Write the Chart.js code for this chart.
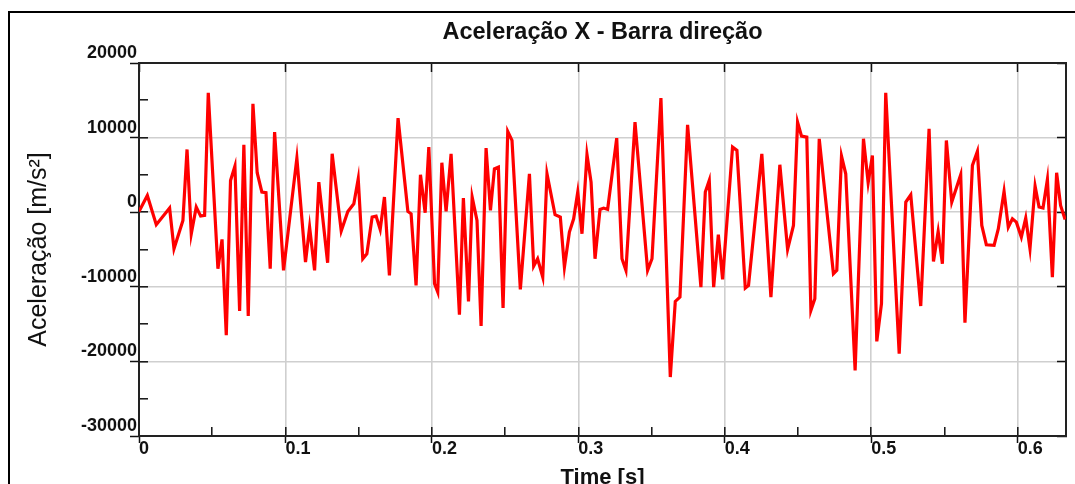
<!DOCTYPE html>
<html>
<head>
<meta charset="utf-8">
<title>Aceleração X - Barra direção</title>
<style>
  html, body { margin: 0; padding: 0; background: #ffffff; }
  #wrap { width: 1075px; height: 484px; position: relative; overflow: hidden; }
  canvas { display: block; }
</style>
<script src="https://cdn.jsdelivr.net/npm/chart.js@4.4.1/dist/chart.umd.min.js"></script>
</head>
<body>
<div id="wrap"><canvas id="chart" width="1075" height="484"></canvas></div>
<script>
// Sample times [s]
const timeS = [
  0, 0.0057, 0.0118, 0.0209, 0.0239, 0.0300, 0.0328, 0.0357, 0.0391, 0.0421,
  0.0448, 0.0473, 0.0539, 0.0567, 0.0596, 0.0625, 0.0655, 0.0687, 0.0716, 0.0746,
  0.0778, 0.0807, 0.0839, 0.0867, 0.0896, 0.0926, 0.0987, 0.1078, 0.1137, 0.1165,
  0.1199, 0.1228, 0.1288, 0.1319, 0.1381, 0.1426, 0.1467, 0.1497, 0.1528, 0.1556,
  0.1592, 0.1619, 0.1647, 0.1676, 0.1710, 0.1769, 0.1836, 0.1858, 0.1892, 0.1922,
  0.1954, 0.1979, 0.2018, 0.2040, 0.2068, 0.2097, 0.2131, 0.2188, 0.2215, 0.2250,
  0.2275, 0.2308, 0.2336, 0.2370, 0.2400, 0.2427, 0.2454, 0.2486, 0.2518, 0.2547,
  0.2604, 0.2666, 0.2695, 0.2722, 0.2757, 0.2786, 0.2841, 0.2877, 0.2905, 0.2939,
  0.2968, 0.2996, 0.3025, 0.3059, 0.3087, 0.3114, 0.3148, 0.3173, 0.3200, 0.3262,
  0.3298, 0.3325, 0.3387, 0.3473, 0.3503, 0.3564, 0.3628, 0.3662, 0.3694, 0.3746,
  0.3837, 0.3867, 0.3894, 0.3924, 0.3956, 0.3985, 0.4053, 0.4083, 0.4140, 0.4162,
  0.4253, 0.4315, 0.4376, 0.4429, 0.4469, 0.4497, 0.4524, 0.4560, 0.4588, 0.4615,
  0.4645, 0.4742, 0.4765, 0.4797, 0.4826, 0.4890, 0.4947, 0.4979, 0.5008, 0.5038,
  0.5070, 0.5099, 0.5191, 0.5236, 0.5270, 0.5338, 0.5395, 0.5425, 0.5457, 0.5486,
  0.5513, 0.5550, 0.5611, 0.5640, 0.5691, 0.5725, 0.5755, 0.5786, 0.5839, 0.5868,
  0.5907, 0.5936, 0.5964, 0.5991, 0.6025, 0.6055, 0.6084, 0.6119, 0.6146, 0.6173,
  0.6203, 0.6237, 0.6266, 0.6293, 0.6324
];

// Acceleration along X [m/s²]
const accelX = [
  100, 2250, -1680, 550, -4900, -1100, 8410, -2890, 690, -520,
  -430, 16000, -7580, -3650, -16500, 4260, 6180, -13250, 9040, -13920,
  14530, 5290, 2700, 2610, -7580, 10740, -7800, 7250, -6690, -2000,
  -7800, 4040, -6770, 7830, -2530, 100, 1130, 4480, -6240, -5570,
  -650, -520, -2310, 2030, -8470, 12610, 100, -210, -9810, 5020,
  -70, 8730, -9590, -10710, 6630, 100, 7830, -13740, 1890, -11960,
  2030, -1100, -15260, 8590, 240, 5820, 6050, -12850, 10830, 9620,
  -10350, 5150, -7220, -6240, -8700, 5150, -340, -650, -7360, -2670,
  -880, 2700, -2890, 7740, 4040, -6240, 370, 550, 370, 9930,
  -6240, -7800, 12080, -7800, -6240, 15290, -22100, -11960, -11380, 11720,
  -10040, 2700, 4260, -10040, -3020, -9010, 8730, 8280, -10170, -9810,
  7830, -11380, 6360, -4990, -1770, 12080, 10200, 10070, -13160, -11600,
  9840, -8250, -7800, 7520, 5150, -21200, 9840, 3950, 7610, -17320,
  -12270, 16010, -18970, 1360, 2340, -12580, 11180, -6600, -2580, -6910,
  9620, 1360, 5020, -14820, 6270, 8150, -1770, -4360, -4450, -2220,
  2790, -2000, -880, -1330, -3340, -790, -4900, 3500, 690, 550,
  4390, -8700, 5290, 910, -970
];

// Axis ticks: labelled (major) and unlabelled (minor) positions
const xMajorTicks = [0, 0.1, 0.2, 0.3, 0.4, 0.5, 0.6];
const xTickLabels = ['0', '0.1', '0.2', '0.3', '0.4', '0.5', '0.6'];
const xMinorTicks = [0.05, 0.15, 0.25, 0.35, 0.45, 0.55];
const yMajorTicks = [-30000, -20000, -10000, 0, 10000, 20000];
const yTickLabels = ['-30000', '-20000', '-10000', '0', '10000', '20000'];
const yMinorTicks = [-25000, -15000, -5000, 5000, 15000];
const xMin = 0, xMax = 0.633;
const yMin = -30000, yMax = 20000;

const FONT = "'Liberation Sans', Arial, Helvetica, sans-serif";
const INK = '#111111';
const GRID = '#cfcfcf';
const NONE = 'rgba(0,0,0,0)';

const near = (a, b) => Math.abs(a - b) < 1e-9;
const majorIndex = (list, v) => list.findIndex(m => near(m, v));
const asTicks = list => list.slice().sort((a, b) => a - b).map(v => ({ value: v }));

// White page with the framing lines at the top and left
const framePlugin = {
  id: 'frame',
  beforeDraw(chart) {
    const ctx = chart.ctx;
    ctx.save();
    ctx.fillStyle = '#ffffff';
    ctx.fillRect(0, 0, chart.width, chart.height);
    ctx.strokeStyle = '#000000';
    ctx.lineWidth = 2;
    ctx.beginPath();
    ctx.moveTo(9, chart.height + 2);
    ctx.lineTo(9, 12);
    ctx.lineTo(chart.width + 2, 12);
    ctx.stroke();
    ctx.restore();
  }
};

// Unlabelled helper axis: only short tick marks, no space taken
const tickOnlyAxis = (position, min, max, ticks, length, weight) => ({
  type: 'linear',
  position,
  min,
  max,
  weight,
  afterBuildTicks: s => { s.ticks = asTicks(ticks); },
  afterFit: s => { if (s.isHorizontal()) { s.height = 0; } else { s.width = 0; } },
  border: { display: false },
  grid: { drawOnChartArea: false, tickColor: INK, tickWidth: 1.5, tickLength: length },
  ticks: { display: false }
});

const points = timeS.map((t, i) => ({ x: t, y: accelX[i] }));

new Chart(document.getElementById('chart'), {
  type: 'line',
  data: {
    datasets: [{
      label: 'Aceleração X',
      data: points,
      xAxisID: 'x',
      yAxisID: 'y',
      borderColor: '#ff0000',
      backgroundColor: '#ff0000',
      borderWidth: 3.2,
      pointRadius: 0,
      tension: 0,
      fill: false
    }]
  },
  options: {
    responsive: false,
    devicePixelRatio: 1,
    animation: false,
    layout: { padding: { left: 0, right: 9, top: 0, bottom: 0 } },
    plugins: {
      legend: { display: false },
      tooltip: { enabled: false },
      title: {
        display: true,
        text: 'Aceleração X - Barra direção',
        fullSize: false,
        color: INK,
        font: { family: FONT, size: 23.5, weight: 'bold', lineHeight: 1.2 },
        padding: { top: 18, bottom: 16.8 }
      }
    },
    scales: {
      x: {
        type: 'linear',
        position: 'bottom',
        min: xMin,
        max: xMax,
        weight: 0,
        afterBuildTicks: s => { s.ticks = asTicks(xMajorTicks.concat(xMinorTicks)); },
        afterFit: s => { s.height = 48; },
        border: { display: true, color: '#222222', width: 2 },
        grid: {
          color: c => (c.tick && majorIndex(xMajorTicks, c.tick.value) >= 0) ? GRID : NONE,
          lineWidth: 1.6,
          tickColor: INK,
          tickWidth: 1.5,
          tickLength: -9,
          drawTicks: true
        },
        ticks: {
          autoSkip: false,
          maxRotation: 0,
          align: 'start',
          padding: 11,
          color: INK,
          font: { family: FONT, size: 18, weight: 'bold', lineHeight: 1.2 },
          callback: v => { const i = majorIndex(xMajorTicks, v); return i >= 0 ? xTickLabels[i] : ''; }
        },
        title: {
          display: true,
          text: 'Time [s]',
          color: INK,
          font: { family: FONT, size: 22, weight: 'bold', lineHeight: 1.2 },
          padding: { top: 0, bottom: -7 }
        }
      },
      xMajorOut: tickOnlyAxis('bottom', xMin, xMax, xMajorTicks, 7, -1),
      xTop: {
        type: 'linear',
        position: 'top',
        min: xMin,
        max: xMax,
        afterBuildTicks: s => { s.ticks = asTicks(xMajorTicks); },
        afterFit: s => { s.height = 0; },
        border: { display: true, color: '#222222', width: 2 },
        grid: { drawOnChartArea: false, tickColor: INK, tickWidth: 1.5, tickLength: -9 },
        ticks: { display: false }
      },
      y: {
        type: 'linear',
        position: 'left',
        min: yMin,
        max: yMax,
        weight: 0,
        afterBuildTicks: s => { s.ticks = asTicks(yMajorTicks.concat(yMinorTicks)); },
        afterFit: s => { s.width = 139; },
        border: { display: true, color: '#222222', width: 2 },
        grid: {
          color: c => (c.tick && majorIndex(yMajorTicks, c.tick.value) >= 0) ? GRID : NONE,
          lineWidth: 1.6,
          tickColor: INK,
          tickWidth: 1.5,
          tickLength: -9,
          drawTicks: true
        },
        ticks: {
          autoSkip: false,
          padding: 11,
          labelOffset: -10,
          color: INK,
          font: { family: FONT, size: 18, weight: 'bold', lineHeight: 1.2 },
          callback: v => { const i = majorIndex(yMajorTicks, v); return i >= 0 ? yTickLabels[i] : ''; }
        },
        title: {
          display: true,
          text: 'Aceleração [m/s²]',
          color: INK,
          font: { family: FONT, size: 25, weight: 'normal', lineHeight: 1.2 },
          padding: { top: 24, bottom: 0 }
        }
      },
      yMajorOut: tickOnlyAxis('left', yMin, yMax, yMajorTicks, 9, -1),
      yRight: {
        type: 'linear',
        position: 'right',
        min: yMin,
        max: yMax,
        afterBuildTicks: s => { s.ticks = asTicks(yMajorTicks); },
        afterFit: s => { s.width = 0; },
        border: { display: true, color: '#222222', width: 2 },
        grid: { drawOnChartArea: false, tickColor: INK, tickWidth: 1.5, tickLength: -9 },
        ticks: { display: false }
      }
    }
  },
  plugins: [framePlugin]
});
</script>
</body>
</html>
